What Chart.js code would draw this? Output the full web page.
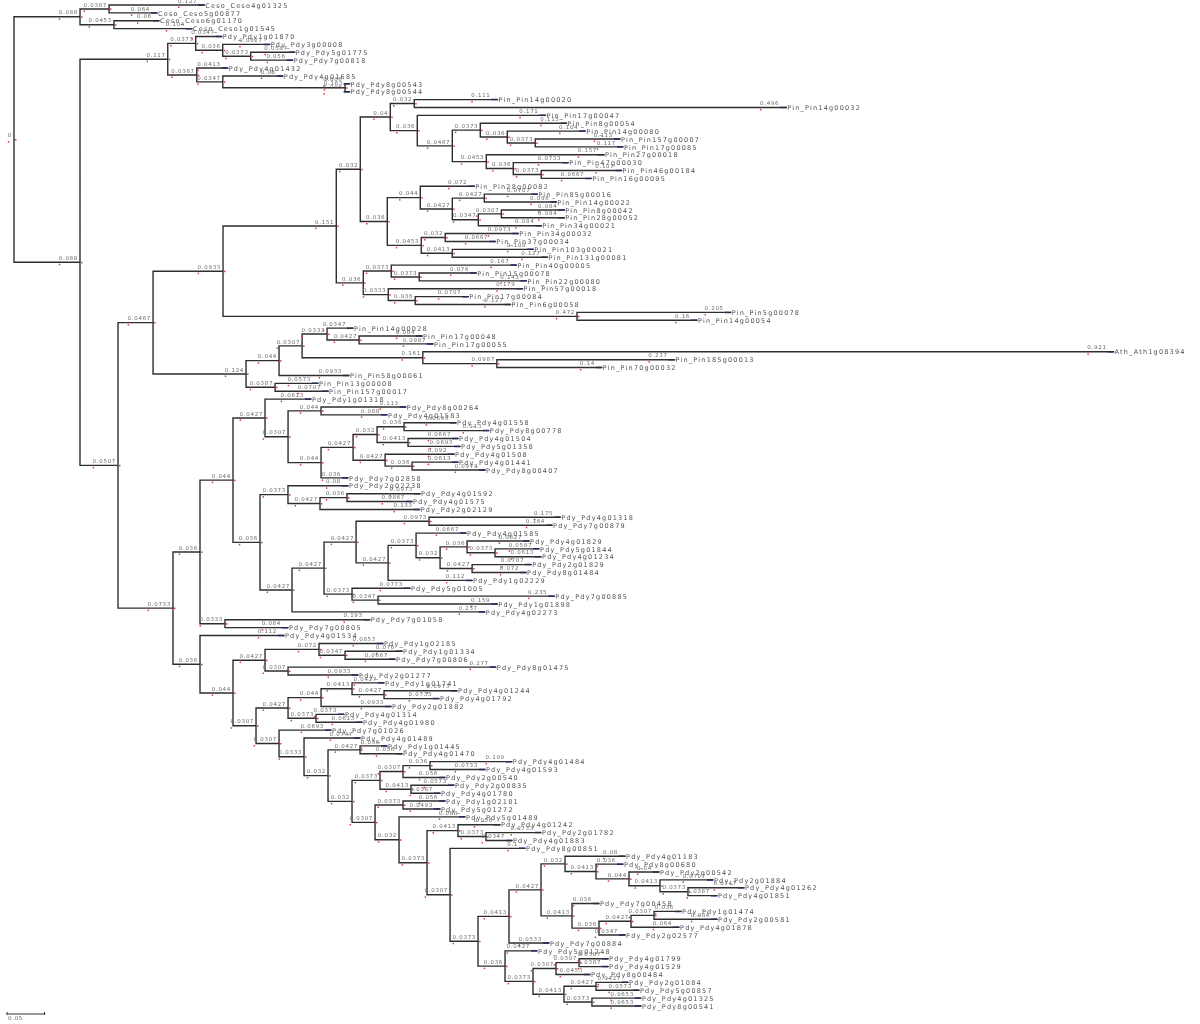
<!DOCTYPE html>
<html>
<head>
<meta charset="utf-8">
<script src="https://cdn.jsdelivr.net/npm/chart.js@4.4.1/dist/chart.umd.min.js"></script>
<style>
  html, body { margin: 0; padding: 0; background: #fff; }
  #wrap { width: 1200px; height: 1024px; }
</style>
</head>
<body>
<div id="wrap"><canvas id="tree" width="1200" height="1024"></canvas></div>
<script>
// gene tree, branch lengths (newick pieces per clade)

const cescClade = "((Ceso_Ceso4g01325:0.127,Ceso_Ceso5g00877:0.064):0.0387,(Ceso_Ceso6g01170:0.06,Ceso_Ceso1g01545:0.104):0.0453)";

const pdyTop = "((Pdy_Pdy1g01870:0.0347,(Pdy_Pdy3g00008:0.0627,(Pdy_Pdy5g01775:0.0587,Pdy_Pdy7g00818:0.056):0.0373):0.036):0.0373," +
  "(Pdy_Pdy4g01432:0.0413,(Pdy_Pdy4g01685:0.08,(Pdy_Pdy8g00543:0.006,Pdy_Pdy8g00544:0.006):0.163):0.0347):0.0387)";

const pinG = "((Pin_Pin14g00020:0.111,Pin_Pin14g00032:0.496):0.032,(Pin_Pin17g00047:0.171,((Pin_Pin8g00054:0.115," +
  "(Pin_Pin14g00080:0.104,(Pin_Pin157g00007:0.113,Pin_Pin17g00085:0.117):0.0373):0.036):0.0373,(Pin_Pin27g00018:0.157," +
  "(Pin_Pin47g00030:0.0733,(Pin_Pin46g00184:0.107,Pin_Pin16g00095:0.0667):0.0373):0.036):0.0453):0.0467):0.036)";

const pinH = "((Pin_Pin28g00082:0.072,((Pin_Pin85g00016:0.0707,Pin_Pin14g00022:0.096):0.0427,((Pin_Pin8g00042:0.084," +
  "Pin_Pin28g00052:0.084):0.0307,Pin_Pin34g00021:0.084):0.0347):0.0427):0.044,((Pin_Pin34g00032:0.0973," +
  "Pin_Pin37g00034:0.0667):0.032,(Pin_Pin103g00021:0.108,Pin_Pin131g00081:0.127):0.0413):0.0453)";

const pinF2 = "((Pin_Pin40g00005:0.167,(Pin_Pin15g00078:0.076,Pin_Pin22g00080:0.143):0.0373):0.0373," +
  "(Pin_Pin57g00018:0.179,(Pin_Pin17g00084:0.0707,Pin_Pin6g00058:0.127):0.036):0.0333)";

const pinK = "(Pin_Pin5g00078:0.205,Pin_Pin14g00054:0.16)";

const pinL = "((((Pin_Pin14g00028:0.0347,(Pin_Pin17g00048:0.084,Pin_Pin17g00055:0.0987):0.0427):0.0333," +
  "(Ath_Ath1g08394:0.921,(Pin_Pin185g00013:0.237,Pin_Pin70g00032:0.14):0.0987):0.161):0.0307,Pin_Pin58g00061:0.0933):0.044," +
  "(Pin_Pin13g00008:0.0573,Pin_Pin157g00017:0.0707):0.0387)";

const pdyD7 = "(Pdy_Pdy1g01318:0.0613,((Pdy_Pdy8g00264:0.113,Pdy_Pdy4g01583:0.088):0.044,((((Pdy_Pdy4g01558:0.0693," +
  "Pdy_Pdy8g00778:0.113):0.036,(Pdy_Pdy4g01504:0.0667,Pdy_Pdy5g01358:0.0693):0.0413):0.032,(Pdy_Pdy4g01508:0.092," +
  "(Pdy_Pdy4g01441:0.0613,Pdy_Pdy8g00407:0.0973):0.036):0.0427):0.0427,Pdy_Pdy7g02858:0.036):0.044):0.0307)";

const pdyD8 = "((Pdy_Pdy2g02238:0.08,((Pdy_Pdy4g01592:0.0973,Pdy_Pdy4g01575:0.0867):0.036,Pdy_Pdy2g02129:0.133):0.0427):0.0373," +
  "((((Pdy_Pdy4g01318:0.175,Pdy_Pdy7g00879:0.164):0.0973,((Pdy_Pdy4g01585:0.0667,((Pdy_Pdy4g01829:0.0827," +
  "(Pdy_Pdy5g01844:0.0587,Pdy_Pdy4g01234:0.0613):0.0373):0.036,(Pdy_Pdy2g01829:0.0787,Pdy_Pdy8g01484:0.072):0.0427):0.032):0.0373," +
  "Pdy_Pdy1g02229:0.112):0.0427):0.0427,(Pdy_Pdy5g01005:0.0773,(Pdy_Pdy7g00885:0.235,Pdy_Pdy1g01898:0.159):0.0347):0.0373):0.0427," +
  "Pdy_Pdy4g02273:0.257):0.0427)";

const pdyD6 = "(Pdy_Pdy7g01058:0.193,Pdy_Pdy7g00805:0.084)";

const pdyD34 = "((Pdy_Pdy1g02185:0.0853,(Pdy_Pdy1g01334:0.076,Pdy_Pdy7g00806:0.0667):0.0347):0.072," +
  "(Pdy_Pdy8g01475:0.277,Pdy_Pdy2g01277:0.0933):0.0307)";

const pdyD39 = "(((Pdy_Pdy1g01741:0.0427,(Pdy_Pdy4g01244:0.0973,Pdy_Pdy4g01792:0.0733):0.0427):0.0413,Pdy_Pdy2g01882:0.0933):0.044," +
  "(Pdy_Pdy4g01314:0.0373,Pdy_Pdy4g01980:0.0613):0.0373)";

const pdyD63 = "((Pdy_Pdy4g01183:0.08,(Pdy_Pdy8g00680:0.036,(Pdy_Pdy2g00542:0.04,(Pdy_Pdy2g01884:0.0707,(Pdy_Pdy4g01262:0.0747," +
  "Pdy_Pdy4g01851:0.0387):0.0373):0.0413):0.044):0.0413):0.032,(Pdy_Pdy7g00458:0.036,(((Pdy_Pdy1g01474:0.036," +
  "Pdy_Pdy2g00581:0.084):0.0307,Pdy_Pdy4g01878:0.064):0.0427,Pdy_Pdy2g02577:0.0347):0.036):0.0413)";

const pdyD62 = "(Pdy_Pdy5g01248:0.0427,(((Pdy_Pdy4g01799:0.0387,Pdy_Pdy4g01529:0.0387):0.0307,Pdy_Pdy8g00484:0.0453):0.0307," +
  "((Pdy_Pdy2g01084:0.0427,Pdy_Pdy5g00857:0.0573):0.0427,(Pdy_Pdy4g01325:0.0653,Pdy_Pdy8g00541:0.0653):0.0373):0.0413):0.0373)";

// put the pieces together
const pdyD60 = `((${pdyD63}:0.0427,Pdy_Pdy7g00884:0.0533):0.0413,${pdyD62}:0.036)`;
const pdyD46 = `((Pdy_Pdy1g01445:0.036,Pdy_Pdy4g01470:0.056):0.0427,((((Pdy_Pdy4g01484:0.109,Pdy_Pdy4g01593:0.0733):0.036,` +
  `Pdy_Pdy2g00540:0.056):0.0307,(Pdy_Pdy2g00835:0.0573,Pdy_Pdy4g01780:0.0387):0.0413):0.0373,((Pdy_Pdy1g02181:0.056,` +
  `Pdy_Pdy5g01272:0.0493):0.0373,(Pdy_Pdy5g01489:0.088,((Pdy_Pdy4g01242:0.056,(Pdy_Pdy2g01782:0.0733,Pdy_Pdy4g01883:0.0347):0.0373):0.0413,` +
  `(Pdy_Pdy8g00851:0.1,${pdyD60}:0.0373):0.0307):0.0373):0.032):0.0307):0.032)`;
const pdyD40 = `(Pdy_Pdy7g01026:0.0693,(Pdy_Pdy4g01489:0.0747,${pdyD46}:0.032):0.0333)`;
const pdyD4 = `(Pdy_Pdy4g01534:0.112,(${pdyD34}:0.0427,(${pdyD39}:0.0427,${pdyD40}:0.0307):0.0307):0.044)`;
const pdyD3 = `((${pdyD7}:0.0427,${pdyD8}:0.036):0.044,${pdyD6}:0.0333)`;
const pinE = `(((${pinG}:0.04,${pinH}:0.036):0.032,${pinF2}:0.036):0.151,${pinK}:0.472)`;
const cladeD = `((${pinE}:0.0933,${pinL}:0.124):0.0467,(${pdyD3}:0.036,${pdyD4}:0.036):0.0733)`;
const treeNewick = `(${cescClade}:0.088,(${pdyTop}:0.117,${cladeD}:0.0507):0.088);`;

const scaleBarLength = 0.05;
const scaleBarLabel = "0.05";

// ---- parse + layout ----
function parseNewick(str) {
  const s = str.replace(/\s+/g, '').replace(/;$/, '');
  let i = 0;
  function node() {
    const n = { children: [], name: '', len: 0 };
    if (s[i] === '(') {
      i++;
      n.children.push(node());
      while (s[i] === ',') { i++; n.children.push(node()); }
      i++;
    }
    let name = '';
    while (i < s.length && !',():'.includes(s[i])) name += s[i++];
    n.name = name;
    if (s[i] === ':') {
      i++;
      let num = '';
      while (i < s.length && !',()'.includes(s[i])) num += s[i++];
      n.len = parseFloat(num);
    }
    return n;
  }
  return node();
}

const root = parseNewick(treeNewick);
const allNodes = [];
let leafCount = 0;
function layout(n, parentX, parent) {
  n.parent = parent;
  n.x = parentX + n.len;
  allNodes.push(n);
  if (n.children.length === 0) {
    n.y = leafCount++;
  } else {
    n.children.forEach(c => layout(c, n.x, n));
    n.y = (n.children[0].y + n.children[n.children.length - 1].y) / 2;
  }
}
layout(root, 0, null);

const branchPts = [];
const tipPts = [];
const TIP = 0.008;
allNodes.forEach(n => {
  if (n.parent) {
    branchPts.push({ x: n.parent.x, y: n.y }, { x: n.x, y: n.y }, { x: null, y: null });
  }
  if (n.children.length) {
    const a = n.children[0], b = n.children[n.children.length - 1];
    branchPts.push({ x: n.x, y: a.y }, { x: n.x, y: b.y }, { x: null, y: null });
  } else {
    tipPts.push({ x: n.x - TIP, y: n.y }, { x: n.x, y: n.y }, { x: null, y: null });
  }
});

function fmt(v) {
  return String(Number(v.toPrecision(3)));
}

// labels, red anchors, scale bar
const treeLabels = {
  id: 'treeLabels',
  afterDatasetsDraw(chart) {
    const { ctx, scales: { x, y } } = chart;
    ctx.save();
    allNodes.forEach(n => {
      const px = x.getPixelForValue(n.x);
      const py = y.getPixelForValue(n.y);
      const isLeaf = n.children.length === 0;
      // branch length label
      ctx.font = '5.5px "DejaVu Sans"';
      if ('letterSpacing' in ctx) ctx.letterSpacing = '0.7px';
      ctx.fillStyle = '#6a6a6a';
      ctx.textAlign = 'right';
      ctx.textBaseline = 'bottom';
      const txt = fmt(n.len);
      const right = px - (isLeaf ? 7 : 2);
      ctx.fillText(txt, right, py - 1);
      const w = ctx.measureText(txt).width;
      ctx.fillStyle = '#e03a3a';
      ctx.fillRect(right - w, py + 1.5, 1.5, 1.5);
      if (!isLeaf) ctx.fillRect(px + 1, py - 0.5, 1.5, 1.5);
      if (isLeaf) {
        ctx.font = '6.5px "DejaVu Sans"';
        if ('letterSpacing' in ctx) ctx.letterSpacing = '1.2px';
        ctx.fillStyle = '#505050';
        ctx.textAlign = 'left';
        ctx.textBaseline = 'middle';
        ctx.fillText(n.name, px + 1, py + 1);
      }
    });
    // scale bar
    const x0 = 7;
    const x1 = x0 + (x.getPixelForValue(scaleBarLength) - x.getPixelForValue(0));
    const yb = 1014;
    ctx.strokeStyle = '#333';
    ctx.lineWidth = 1;
    ctx.beginPath();
    ctx.moveTo(x0, yb); ctx.lineTo(x1, yb);
    ctx.moveTo(x0, yb - 2); ctx.lineTo(x0, yb + 1);
    ctx.moveTo(x1, yb - 2); ctx.lineTo(x1, yb + 1);
    ctx.stroke();
    ctx.font = '5.5px "DejaVu Sans"';
    if ('letterSpacing' in ctx) ctx.letterSpacing = '0.7px';
    ctx.fillStyle = '#6a6a6a';
    ctx.textAlign = 'left';
    ctx.textBaseline = 'top';
    ctx.fillText(scaleBarLabel, x0 + 1, yb + 2);
    ctx.restore();
  }
};

const PX_PER_UNIT = 750;
const xMin = -14 / PX_PER_UNIT;
const rowPx = (1006 - 5) / (leafCount - 1);
const yMin = -5 / rowPx;

new Chart(document.getElementById('tree'), {
  type: 'scatter',
  data: {
    datasets: [
      {
        label: 'branches',
        data: branchPts,
        showLine: true,
        spanGaps: false,
        borderColor: '#2e2e2e',
        borderWidth: 1.4,
        pointRadius: 0,
        borderCapStyle: 'square'
      },
      {
        label: 'tips',
        data: tipPts,
        showLine: true,
        spanGaps: false,
        borderColor: '#1a1ad8',
        borderWidth: 1.5,
        pointRadius: 0
      }
    ]
  },
  options: {
    responsive: false,
    animation: false,
    devicePixelRatio: 1,
    layout: { padding: 0 },
    plugins: { legend: { display: false }, tooltip: { enabled: false } },
    scales: {
      x: { type: 'linear', display: false, min: xMin, max: xMin + 1200 / PX_PER_UNIT },
      y: { type: 'linear', display: false, reverse: true, min: yMin, max: yMin + 1024 / rowPx }
    }
  },
  plugins: [treeLabels]
});
</script>
</body>
</html>
